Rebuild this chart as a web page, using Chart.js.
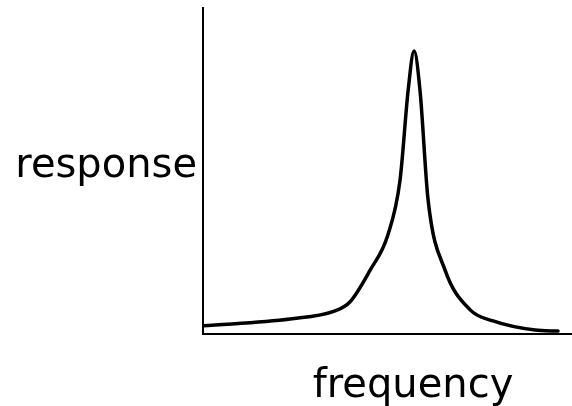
<!DOCTYPE html>
<html>
<head>
<meta charset="utf-8">
<script src="https://cdn.jsdelivr.net/npm/chart.js@4"></script>
<style>
  body { margin: 0; background: #fff; }
  #wrap { width: 572px; height: 406px; }
</style>
</head>
<body>
<div id="wrap"><canvas id="resonanceChart" width="572" height="406"></canvas></div>
<script>
// frecuencia (unidades arbitrarias) y respuesta
const frequency = [0, 2.36, 3.58, 3.98, 4.53, 5.01, 5.34, 5.56, 5.72, 5.88, 6.10, 6.56, 7.24, 7.86, 9.00, 9.62];
const response = [0.025, 0.046, 0.071, 0.098, 0.196, 0.304, 0.472, 0.748, 0.868, 0.748, 0.411, 0.196, 0.074, 0.040, 0.012, 0.009];
const xLabel = 'frequency';
const yLabel = 'response';

const points = frequency.map((f, i) => ({ x: f, y: response[i] }));

// dibuja los títulos de los ejes (el de y va horizontal)
const axisLabels = {
    id: 'axisLabels',
    afterDraw(chart) {
        const ctx = chart.ctx;
        const area = chart.chartArea;
        ctx.save();
        ctx.fillStyle = '#000';
        ctx.font = '40px "DejaVu Sans"';
        ctx.textBaseline = 'alphabetic';
        ctx.textAlign = 'right';
        ctx.fillText(yLabel, area.left - 6, 177);
        ctx.textAlign = 'center';
        ctx.fillText(xLabel, 413, 397);
        ctx.restore();
    }
};

const chart = new Chart(document.getElementById('resonanceChart'), {
    type: 'line',
    data: {
        datasets: [{
            data: points,
            borderColor: '#000',
            borderWidth: 3.5,
            borderJoinStyle: 'round',
            borderCapStyle: 'round',
            pointRadius: 0,
            cubicInterpolationMode: 'monotone',
            fill: false
        }]
    },
    options: {
        responsive: false,
        animation: false,
        devicePixelRatio: 1,
        layout: { padding: { left: 203, top: 8, right: 0, bottom: 72 } },
        plugins: { legend: { display: false }, tooltip: { enabled: false } },
        scales: {
            x: {
                type: 'linear',
                min: 0,
                max: 10,
                grid: { display: false },
                ticks: { display: false },
                border: { color: '#000', width: 2 },
                afterFit(scale) { scale.height = 0; }
            },
            y: {
                min: 0,
                max: 1,
                grid: { display: false },
                ticks: { display: false },
                border: { color: '#000', width: 2 },
                afterFit(scale) { scale.width = 0; }
            }
        }
    },
    plugins: [axisLabels]
});
</script>
</body>
</html>
